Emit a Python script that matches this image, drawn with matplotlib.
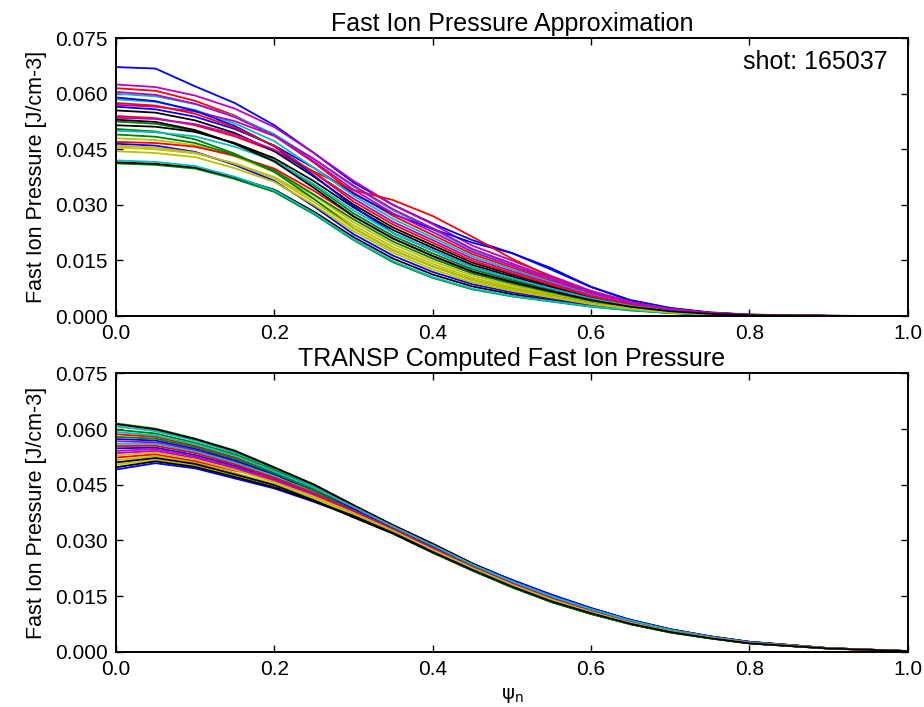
import numpy as np
import matplotlib
matplotlib.use("Agg")
import matplotlib.pyplot as plt
from matplotlib.ticker import FormatStrFormatter

plt.rcParams["font.family"] = ["Liberation Sans", "DejaVu Sans"]
plt.rcParams["mathtext.fontset"] = "dejavusans"

# normalized poloidal flux grid
psi_n = [0.0, 0.05, 0.1, 0.15, 0.2, 0.25, 0.3, 0.35, 0.4, 0.45, 0.5,
         0.55, 0.6, 0.65, 0.7, 0.75, 0.8, 0.9, 1.0]

# pressure profiles in units of 1e-3 J/cm^3, one row per time slice
approx_profiles = [
    [67.2, 66.8, 62.0, 57.5, 51.5, 44.0, 36.0, 30.0, 25.0, 20.5, 17.0, 12.5, 7.8, 4.2, 2.1, 0.9, 0.35, 0.05, 0],
    [41.2, 40.8, 39.8, 37.0, 33.5, 27.5, 20.5, 14.5, 10.3, 7.2, 5.3, 3.9, 2.5, 1.5, 0.8, 0.4, 0.15, 0.02, 0],
    [61.5, 60.8, 58.1, 54.1, 48.7, 41.4, 33.3, 27.0, 21.9, 16.7, 13.1, 9.4, 6.0, 3.4, 1.8, 0.8, 0.3, 0.04, 0],
    [60.0, 59.3, 57.2, 53.9, 49.1, 42.4, 34.9, 28.5, 23.4, 17.8, 14.0, 10.1, 6.4, 3.7, 1.9, 0.85, 0.33, 0.05, 0],
    [62.5, 61.8, 59.5, 56.0, 51.0, 44.0, 36.5, 30.0, 24.8, 19.0, 15.0, 10.8, 6.8, 3.9, 2.0, 0.9, 0.35, 0.05, 0],
    [45.5, 45.0, 43.9, 41.2, 37.5, 31.6, 24.5, 18.6, 14.1, 10.3, 7.8, 5.7, 3.6, 2.2, 1.1, 0.5, 0.2, 0.02, 0],
    [41.5, 41.1, 40.1, 37.4, 34.1, 28.2, 21.3, 15.5, 11.2, 8.0, 5.9, 4.3, 2.8, 1.7, 0.86, 0.43, 0.16, 0.02, 0],
    [56.5, 55.8, 53.8, 50.5, 46.0, 40.0, 33.0, 27.5, 23.5, 19.8, 17.0, 12.9, 7.9, 4.3, 2.2, 1.0, 0.4, 0.05, 0],
    [52.5, 51.9, 50.0, 46.5, 42.1, 35.3, 27.7, 21.6, 16.9, 12.6, 9.7, 7.1, 4.5, 2.6, 1.3, 0.6, 0.24, 0.03, 0],
    [54.0, 53.4, 51.5, 48.5, 44.5, 39.0, 34.0, 31.3, 27.0, 21.4, 15.5, 10.5, 6.5, 3.7, 1.9, 0.85, 0.3, 0.04, 0],
    [58.5, 57.8, 55.6, 52.0, 47.2, 40.0, 32.5, 26.2, 21.2, 16.1, 12.6, 9.1, 5.8, 3.3, 1.7, 0.78, 0.3, 0.04, 0],
    [57.0, 56.5, 55.2, 52.6, 48.6, 42.4, 35.2, 28.8, 23.7, 18.1, 14.2, 10.3, 6.5, 3.7, 1.9, 0.86, 0.33, 0.05, 0],
    [48.0, 47.5, 46.1, 43.1, 38.9, 32.5, 25.3, 19.4, 14.8, 10.9, 8.3, 6.0, 3.9, 2.3, 1.16, 0.55, 0.21, 0.03, 0],
    [55.5, 54.9, 52.8, 49.4, 44.5, 37.6, 30.1, 23.9, 19.1, 14.4, 11.2, 8.1, 5.1, 3.0, 1.5, 0.7, 0.27, 0.04, 0],
    [46.5, 46.0, 44.3, 40.8, 36.5, 29.6, 22.1, 16.3, 11.9, 8.6, 6.4, 4.7, 3.0, 1.8, 0.92, 0.45, 0.17, 0.02, 0],
    [50.5, 49.8, 47.7, 43.8, 38.9, 31.6, 23.7, 17.8, 13.4, 9.7, 7.3, 5.4, 3.4, 2.1, 1.04, 0.5, 0.19, 0.02, 0],
    [47.0, 46.7, 45.7, 43.3, 39.8, 33.8, 26.9, 20.9, 16.2, 12.0, 9.2, 6.7, 4.3, 2.5, 1.28, 0.6, 0.23, 0.03, 0],
    [42.0, 41.6, 40.5, 37.6, 33.9, 27.8, 20.7, 14.8, 10.5, 7.4, 5.4, 4.0, 2.6, 1.6, 0.8, 0.4, 0.15, 0.02, 0],
    [53.5, 53.2, 51.8, 49.0, 44.9, 38.7, 31.7, 25.4, 20.5, 15.5, 12.1, 8.8, 5.5, 3.2, 1.64, 0.75, 0.29, 0.04, 0],
    [44.5, 44.0, 42.9, 39.9, 36.2, 30.0, 22.9, 17.1, 12.6, 9.1, 6.8, 5.0, 3.2, 1.95, 0.98, 0.47, 0.18, 0.02, 0],
    [51.5, 51.1, 49.7, 46.7, 42.6, 36.4, 29.3, 23.2, 18.4, 13.8, 10.7, 7.7, 4.9, 2.9, 1.46, 0.68, 0.26, 0.04, 0],
    [59.0, 58.0, 55.4, 51.3, 45.8, 37.9, 29.6, 22.4, 17.7, 13.2, 10.2, 7.4, 4.7, 2.75, 1.4, 0.65, 0.25, 0.03, 0],
    [49.0, 48.4, 46.7, 43.5, 39.3, 32.8, 26.1, 20.1, 15.5, 11.5, 8.8, 6.4, 4.1, 2.4, 1.2, 0.57, 0.22, 0.03, 0],
    [57.5, 56.8, 54.6, 50.9, 45.9, 38.7, 30.9, 24.7, 19.8, 14.9, 11.6, 8.4, 5.3, 3.1, 1.58, 0.73, 0.28, 0.04, 0],
    [50.0, 49.6, 48.5, 45.7, 41.9, 35.6, 28.5, 22.4, 17.7, 13.2, 10.2, 7.4, 4.7, 2.75, 1.4, 0.65, 0.25, 0.03, 0],
    [60.5, 59.7, 57.3, 53.7, 48.7, 41.7, 34.1, 27.7, 22.7, 17.3, 13.6, 9.8, 6.2, 3.55, 1.8, 0.83, 0.32, 0.05, 0],
    [46.0, 45.5, 44.1, 41.1, 37.2, 30.8, 23.7, 17.8, 13.4, 9.7, 7.3, 5.4, 3.4, 2.1, 1.04, 0.5, 0.19, 0.02, 0],
    [53.0, 52.4, 50.2, 46.5, 41.7, 34.6, 26.9, 20.9, 16.2, 12.0, 9.2, 6.7, 4.3, 2.5, 1.28, 0.6, 0.23, 0.03, 0],
]

transp_profiles = [
    [49.1, 50.8, 49.4, 46.7, 44.0, 40.4, 36.4, 31.9, 26.8, 22.0, 17.5, 13.5, 10.3, 7.5, 5.3, 3.7, 2.3, 0.9, 0.2],
    [61.5, 60.1, 57.4, 54.2, 49.7, 45.1, 39.5, 34.0, 29.0, 23.7, 19.2, 15.2, 11.6, 8.5, 6.0, 4.1, 2.7, 1.0, 0.2],
    [58.6, 57.9, 55.5, 52.4, 48.4, 44.0, 38.8, 33.6, 28.6, 23.4, 18.9, 14.9, 11.4, 8.3, 5.9, 4.1, 2.6, 0.98, 0.2],
    [60.7, 59.4, 56.9, 53.7, 49.3, 44.8, 39.3, 34.0, 29.0, 23.8, 19.3, 15.3, 11.7, 8.5, 6.05, 4.15, 2.67, 1.0, 0.2],
    [56.7, 56.4, 54.3, 51.3, 47.8, 44.0, 39.4, 34.1, 29.1, 23.8, 19.3, 15.3, 11.7, 8.5, 6.0, 4.1, 2.65, 1.0, 0.2],
    [51.6, 52.7, 51.0, 48.2, 45.2, 41.4, 37.0, 32.4, 27.3, 22.4, 17.9, 13.9, 10.6, 7.7, 5.45, 3.8, 2.4, 0.92, 0.2],
    [61.3, 59.9, 57.3, 54.1, 49.6, 45.0, 39.5, 34.1, 29.1, 23.8, 19.3, 15.3, 11.75, 8.6, 6.1, 4.2, 2.7, 1.0, 0.2],
    [54.8, 55.0, 53.0, 50.1, 46.6, 42.6, 37.8, 32.9, 27.9, 22.9, 18.4, 14.4, 11.0, 8.0, 5.65, 3.9, 2.5, 0.95, 0.2],
    [59.8, 58.8, 56.3, 53.2, 48.9, 44.3, 38.0, 32.6, 27.0, 22.2, 17.7, 13.7, 10.45, 7.6, 5.4, 3.75, 2.34, 0.9, 0.2],
    [52.3, 53.2, 51.4, 48.8, 46.9, 44.2, 39.0, 33.8, 28.7, 23.5, 19.0, 15.0, 11.5, 8.4, 5.95, 4.1, 2.6, 0.98, 0.2],
    [56.0, 56.0, 53.9, 50.9, 47.2, 43.0, 38.2, 33.2, 28.1, 23.1, 18.6, 14.6, 11.1, 8.1, 5.75, 4.0, 2.5, 0.96, 0.2],
    [53.5, 54.1, 52.2, 49.4, 46.0, 42.1, 37.5, 32.7, 27.6, 22.7, 18.2, 14.2, 10.8, 7.9, 5.6, 3.9, 2.44, 0.93, 0.2],
    [50.4, 51.7, 50.2, 47.5, 44.6, 40.9, 36.7, 32.1, 27.0, 22.2, 17.7, 13.7, 10.45, 7.6, 5.4, 3.75, 2.34, 0.9, 0.2],
    [51.0, 52.2, 50.6, 47.8, 44.9, 40.8, 36.2, 31.8, 26.7, 21.9, 17.4, 13.4, 10.2, 7.45, 5.25, 3.68, 2.3, 0.9, 0.2],
    [57.3, 56.9, 54.7, 51.6, 47.8, 43.5, 38.5, 33.4, 28.4, 23.4, 19.4, 15.4, 11.8, 8.6, 6.1, 4.2, 2.7, 1.0, 0.2],
    [57.9, 57.4, 55.1, 52.0, 48.1, 43.6, 38.0, 32.6, 26.8, 21.9, 17.4, 13.4, 10.2, 7.4, 5.2, 3.6, 2.25, 0.88, 0.2],
    [55.4, 55.5, 53.5, 50.5, 46.9, 42.8, 38.0, 33.1, 28.0, 23.0, 18.5, 14.5, 11.1, 8.1, 5.7, 3.95, 2.5, 0.95, 0.2],
    [59.2, 58.3, 55.9, 52.8, 48.6, 44.2, 39.0, 33.7, 28.7, 23.5, 19.0, 15.0, 11.5, 8.4, 5.95, 4.1, 2.6, 0.98, 0.2],
    [54.1, 54.6, 52.6, 49.7, 46.3, 42.3, 37.7, 32.8, 27.8, 22.8, 18.3, 14.3, 10.9, 7.9, 5.6, 3.9, 2.46, 0.94, 0.2],
    [52.9, 53.6, 51.8, 49.0, 45.7, 41.8, 37.4, 32.6, 27.5, 22.6, 18.1, 14.1, 10.75, 7.8, 5.55, 3.85, 2.42, 0.93, 0.2],
    [49.7, 51.3, 49.8, 47.1, 44.3, 40.6, 36.6, 32.0, 26.9, 22.1, 17.6, 13.6, 10.4, 7.55, 5.35, 3.7, 2.3, 0.9, 0.2],
]

# old matplotlib default color cycle
line_colors = ["b", "g", "r", "c", "m", "y", "k"]

titles = ["Fast Ion Pressure Approximation", "TRANSP Computed Fast Ion Pressure"]
y_label = "Fast Ion Pressure [J/cm-3]"
x_label = r"$\mathrm{\psi_n}$"
shot_text = "shot: 165037"
y_ticks = [0.0, 0.015, 0.03, 0.045, 0.06, 0.075]
x_ticks = [0.0, 0.2, 0.4, 0.6, 0.8, 1.0]


def draw_panel(ax, profiles, title):
    for i, prof in enumerate(profiles):
        ax.plot(psi_n, np.array(prof) * 1e-3, color=line_colors[i % len(line_colors)], lw=1.3)
    ax.set_xlim(0, 1)
    ax.set_ylim(0, 0.075)
    ax.set_xticks(x_ticks)
    ax.set_yticks(y_ticks)
    ax.xaxis.set_major_formatter(FormatStrFormatter("%.1f"))
    ax.yaxis.set_major_formatter(FormatStrFormatter("%.3f"))
    ax.tick_params(direction="in", top=True, right=True, length=5, width=1,
                   labelsize=15, pad=6)
    for sp in ax.spines.values():
        sp.set_linewidth(1.4)
    ax.set_title(title, fontsize=18, pad=5)
    ax.set_ylabel(y_label, fontsize=15.5, labelpad=6)


fig = plt.figure(figsize=(9.24, 7.07), dpi=100)
ax1 = fig.add_axes([0.1255, 0.553, 0.857, 0.393])
ax2 = fig.add_axes([0.1255, 0.078, 0.857, 0.394])

draw_panel(ax1, approx_profiles, titles[0])
ax1.text(0.975, 0.915, shot_text, transform=ax1.transAxes, ha="right", va="center", fontsize=18)

draw_panel(ax2, transp_profiles, titles[1])
ax2.set_xlabel(x_label, fontsize=14, labelpad=5)

fig.savefig("out.png", dpi=100)
